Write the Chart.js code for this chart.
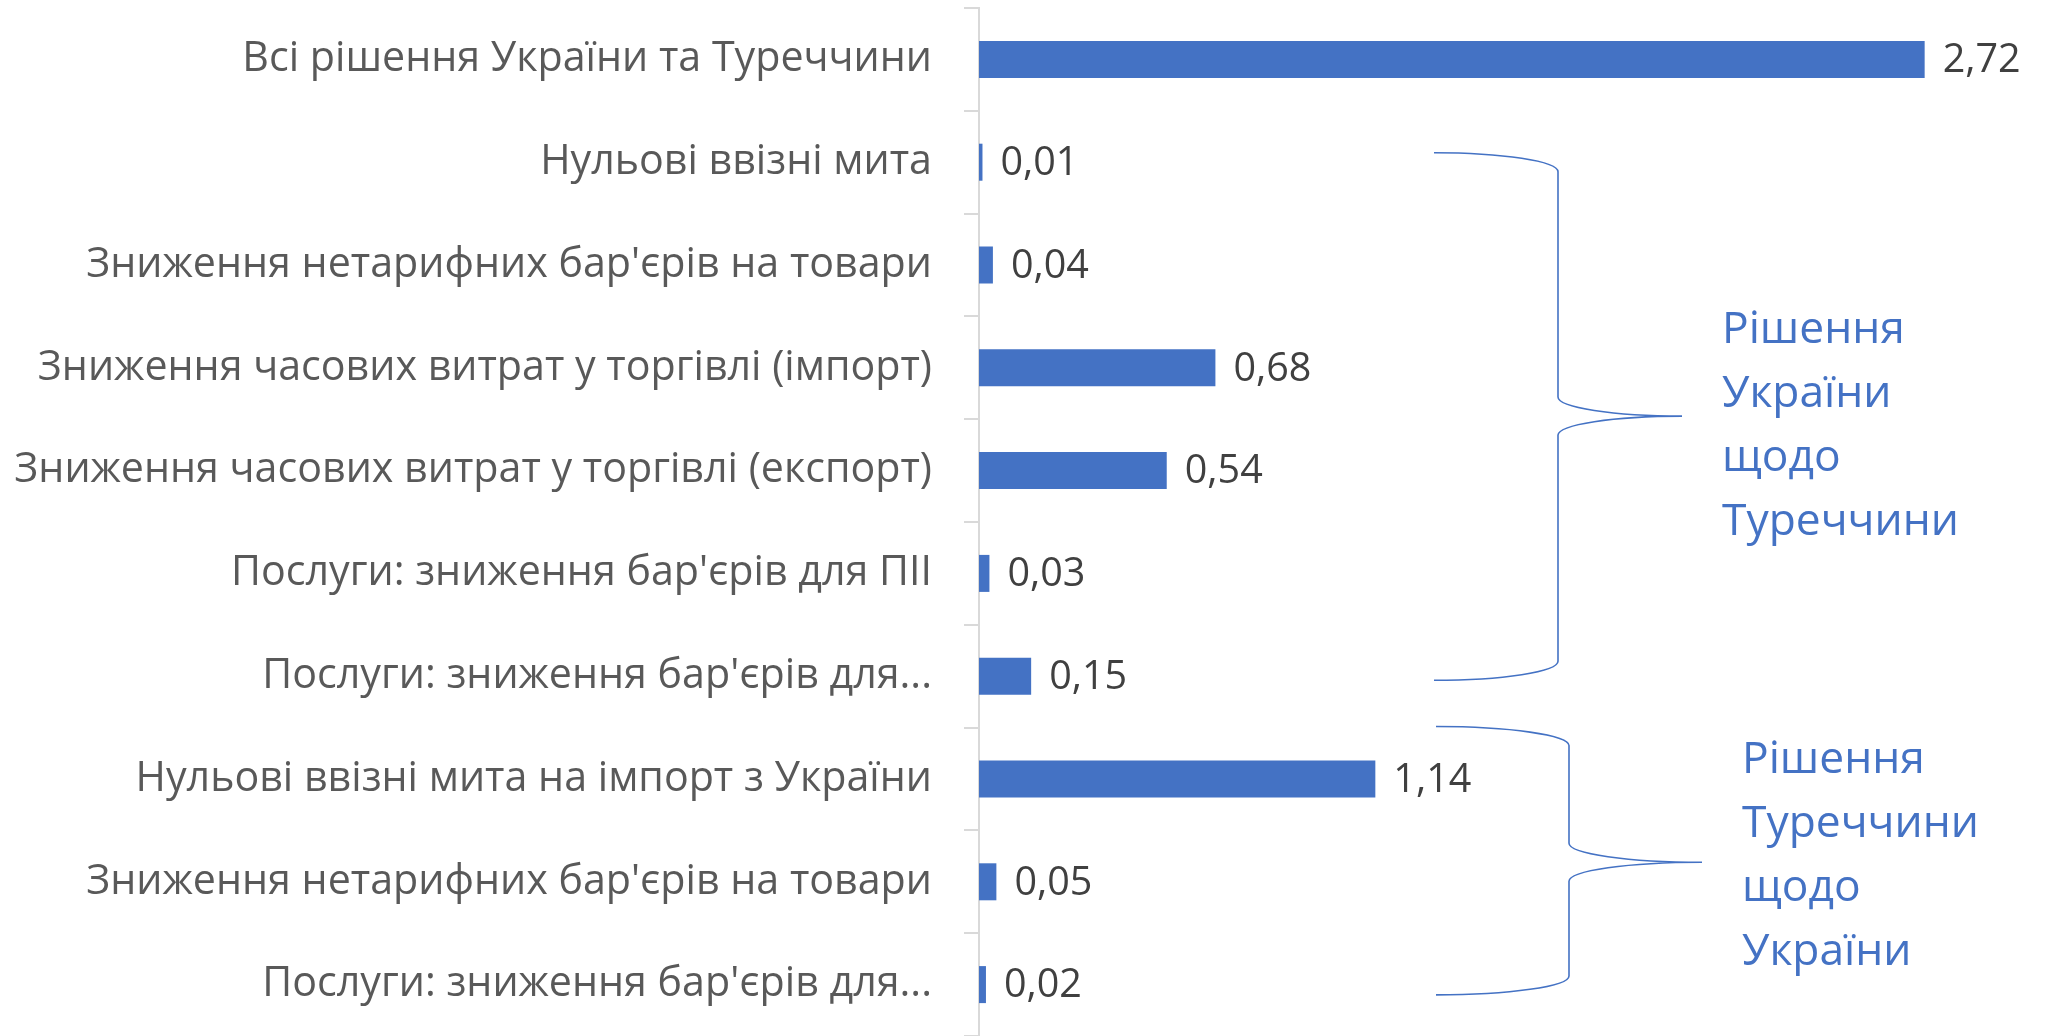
<!DOCTYPE html>
<html>
<head>
<meta charset="utf-8">
<script src="https://cdn.jsdelivr.net/npm/chart.js@4/dist/chart.umd.min.js"></script>
<style>
  html, body { margin: 0; padding: 0; background: #ffffff; }
  #wrap { width: 2052px; height: 1036px; }
</style>
</head>
<body>
<div id="wrap"><canvas id="c" width="2052" height="1036" style="width:2052px;height:1036px"></canvas></div>
<script>
// ---- data ----
const categories = [
  "Всі рішення України та Туреччини",
  "Нульові ввізні мита",
  "Зниження нетарифних бар'єрів на товари",
  "Зниження часових витрат у торгівлі (імпорт)",
  "Зниження часових витрат у торгівлі (експорт)",
  "Послуги: зниження бар'єрів для ПІІ",
  "Послуги: зниження бар'єрів для...",
  "Нульові ввізні мита на імпорт з України",
  "Зниження нетарифних бар'єрів на товари",
  "Послуги: зниження бар'єрів для..."
];
const values = [2.72, 0.01, 0.04, 0.68, 0.54, 0.03, 0.15, 1.14, 0.05, 0.02];
const groupUA = ["Рішення", "України", "щодо", "Туреччини"];
const groupTR = ["Рішення", "Туреччини", "щодо", "України"];

// ---- styling ----
const FAMILY = '"Open Sans", "Noto Sans", sans-serif';
const BLUE = '#4472C4';
const mctx = document.createElement('canvas').getContext('2d');
function fitSize(text, target) {
  mctx.font = '100px ' + FAMILY;
  return 100 * target / mctx.measureText(text).width;
}
const labelSize = fitSize("Зниження часових витрат у торгівлі (експорт)", 918);
const valueSize = fitSize("2,72", 78);
const noteSize = fitSize("Туреччини", 237);

// brace annotations: vertical extents in category units, horizontal in px
const braces = [
  { top: 0.908, mid: 3.47, bottom: 6.04, left: 1434, stem: 1558, tip: 1682, textX: 1722, firstLine: 2.754, lines: groupUA },
  { top: 6.49, mid: 7.81, bottom: 9.10, left: 1436, stem: 1569, tip: 1702, textX: 1742, firstLine: 6.942, lines: groupTR }
];

const valueLabels = {
  id: 'valueLabels',
  afterDatasetsDraw(chart) {
    const ctx = chart.ctx;
    const meta = chart.getDatasetMeta(0);
    ctx.save();
    ctx.font = valueSize + 'px ' + FAMILY;
    ctx.fillStyle = '#404040';
    ctx.textAlign = 'left';
    ctx.textBaseline = 'middle';
    meta.data.forEach((el, i) => {
      const txt = values[i].toFixed(2).replace('.', ',');
      ctx.fillText(txt, el.x + 18, el.y + 1.5);
    });
    ctx.restore();
  }
};

const braceDraw = {
  id: 'braceDraw',
  afterDraw(chart) {
    const ctx = chart.ctx;
    const ys = chart.scales.y;
    ctx.save();
    ctx.strokeStyle = BLUE;
    ctx.lineWidth = 1.6;
    braces.forEach(b => {
      const top = ys.getPixelForValue(b.top);
      const mid = ys.getPixelForValue(b.mid);
      const bot = ys.getPixelForValue(b.bottom);
      const r = 19;
      const a1 = b.stem - b.left;
      const a2 = b.tip - b.stem;
      ctx.beginPath();
      ctx.ellipse(b.left, top + r, a1, r, 0, -Math.PI / 2, 0, false);
      ctx.lineTo(b.stem, mid - r);
      ctx.ellipse(b.tip, mid - r, a2, r, 0, Math.PI, Math.PI / 2, true);
      ctx.ellipse(b.tip, mid + r, a2, r, 0, -Math.PI / 2, Math.PI, true);
      ctx.lineTo(b.stem, bot - r);
      ctx.ellipse(b.left, bot - r, a1, r, 0, 0, Math.PI / 2, false);
      ctx.stroke();

      ctx.fillStyle = BLUE;
      ctx.font = noteSize + 'px ' + FAMILY;
      ctx.textAlign = 'left';
      ctx.textBaseline = 'alphabetic';
      const y0 = ys.getPixelForValue(b.firstLine);
      b.lines.forEach((ln, k) => ctx.fillText(ln, b.textX, y0 + k * 64));
    });
    ctx.restore();
  }
};

new Chart(document.getElementById('c'), {
  type: 'bar',
  data: {
    labels: categories,
    datasets: [{
      data: values,
      backgroundColor: BLUE,
      borderWidth: 0,
      categoryPercentage: 1,
      barPercentage: 0.36
    }]
  },
  options: {
    indexAxis: 'y',
    responsive: false,
    animation: false,
    devicePixelRatio: 1,
    layout: { padding: { top: 8, right: 30, bottom: 0, left: 0 } },
    plugins: { legend: { display: false }, tooltip: { enabled: false } },
    scales: {
      x: { display: false, min: 0, max: 3 },
      y: {
        afterFit(s) { s.width = 979; s.paddingTop = 0; s.paddingBottom = 0; },
        grid: { drawOnChartArea: false, drawTicks: true, tickLength: 15, color: '#D9D9D9', lineWidth: 2, offset: true },
        border: { display: true, color: '#D9D9D9', width: 2 },
        ticks: { color: '#595959', font: { family: FAMILY, size: labelSize }, padding: 32, autoSkip: false }
      }
    }
  },
  plugins: [valueLabels, braceDraw]
});
</script>
</body>
</html>
